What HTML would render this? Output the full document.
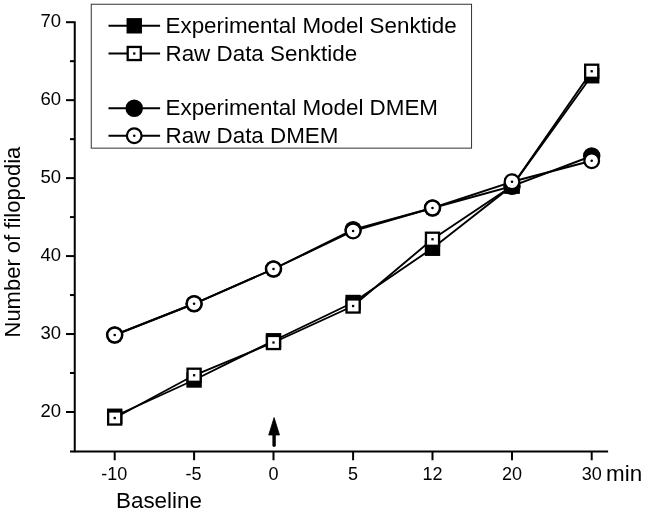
<!DOCTYPE html>
<html><head><meta charset="utf-8"><title>Number of filopodia</title>
<style>
html,body{margin:0;padding:0;background:#fff;}
svg{display:block;filter:grayscale(1);}
text{font-family:"Liberation Sans",Arial,sans-serif;fill:#000;}
</style></head><body>
<svg width="645" height="513" viewBox="0 0 645 513">
<rect width="645" height="513" fill="#fff"/>

<g stroke="#000" stroke-width="2" fill="none">
<line x1="74.75" y1="21.2" x2="74.75" y2="452.25"/>
<line x1="70" y1="451.4" x2="608.1" y2="451.4"/>
<line x1="66" y1="22.20" x2="74" y2="22.20"/>
<line x1="70" y1="61.18" x2="74" y2="61.18"/>
<line x1="66" y1="100.16" x2="74" y2="100.16"/>
<line x1="70" y1="139.14" x2="74" y2="139.14"/>
<line x1="66" y1="178.12" x2="74" y2="178.12"/>
<line x1="70" y1="217.10" x2="74" y2="217.10"/>
<line x1="66" y1="256.08" x2="74" y2="256.08"/>
<line x1="70" y1="295.06" x2="74" y2="295.06"/>
<line x1="66" y1="334.04" x2="74" y2="334.04"/>
<line x1="70" y1="373.02" x2="74" y2="373.02"/>
<line x1="66" y1="412.00" x2="74" y2="412.00"/>
<line x1="114.7" y1="452" x2="114.7" y2="460.25"/>
<line x1="194.1" y1="452" x2="194.1" y2="460.25"/>
<line x1="273.5" y1="452" x2="273.5" y2="460.25"/>
<line x1="353.1" y1="452" x2="353.1" y2="460.25"/>
<line x1="432.5" y1="452" x2="432.5" y2="460.25"/>
<line x1="512" y1="452" x2="512" y2="460.25"/>
<line x1="591.7" y1="452" x2="591.7" y2="460.25"/>
</g>
<text x="61" y="27.40" font-size="18.5" text-anchor="end">70</text>
<text x="61" y="105.36" font-size="18.5" text-anchor="end">60</text>
<text x="61" y="183.32" font-size="18.5" text-anchor="end">50</text>
<text x="61" y="261.28" font-size="18.5" text-anchor="end">40</text>
<text x="61" y="339.24" font-size="18.5" text-anchor="end">30</text>
<text x="61" y="417.20" font-size="18.5" text-anchor="end">20</text>
<text x="114.2" y="480" font-size="18" text-anchor="middle">-10</text>
<text x="193.6" y="480" font-size="18" text-anchor="middle">-5</text>
<text x="273.5" y="480" font-size="18" text-anchor="middle">0</text>
<text x="353.1" y="480" font-size="18" text-anchor="middle">5</text>
<text x="432.5" y="480" font-size="18" text-anchor="middle">12</text>
<text x="512" y="480" font-size="18" text-anchor="middle">20</text>
<text x="591.7" y="480" font-size="18" text-anchor="middle">30</text>
<text x="606" y="480.75" font-size="22.4">min</text>
<text x="116" y="507.6" font-size="22.4">Baseline</text>
<text transform="translate(19.7,337.5) rotate(-90)" font-size="22">Number of filopodia</text>
<polyline points="114.7,416.25 194.1,380 273.5,340.75 353.1,302.5 432.5,248.25 512,186 591.7,75.75" fill="none" stroke="#000" stroke-width="1.9"/>
<rect x="107.00" y="408.55" width="15.4" height="15.4" fill="#000"/>
<rect x="186.40" y="372.30" width="15.4" height="15.4" fill="#000"/>
<rect x="265.80" y="333.05" width="15.4" height="15.4" fill="#000"/>
<rect x="345.40" y="294.80" width="15.4" height="15.4" fill="#000"/>
<rect x="424.80" y="240.55" width="15.4" height="15.4" fill="#000"/>
<rect x="504.30" y="178.30" width="15.4" height="15.4" fill="#000"/>
<rect x="584.00" y="68.05" width="15.4" height="15.4" fill="#000"/>
<polyline points="114.7,418 194.1,375.25 273.5,342.5 353.1,306 432.5,239.25 512,186 591.7,71.25" fill="none" stroke="#000" stroke-width="1.9"/>
<rect x="108.15" y="411.45" width="13.1" height="13.1" fill="#fff" stroke="#000" stroke-width="2.3"/><rect x="113.55" y="416.85" width="2.3" height="2.3" fill="#000"/>
<rect x="187.55" y="368.70" width="13.1" height="13.1" fill="#fff" stroke="#000" stroke-width="2.3"/><rect x="192.95" y="374.10" width="2.3" height="2.3" fill="#000"/>
<rect x="266.95" y="335.95" width="13.1" height="13.1" fill="#fff" stroke="#000" stroke-width="2.3"/><rect x="272.35" y="341.35" width="2.3" height="2.3" fill="#000"/>
<rect x="346.55" y="299.45" width="13.1" height="13.1" fill="#fff" stroke="#000" stroke-width="2.3"/><rect x="351.95" y="304.85" width="2.3" height="2.3" fill="#000"/>
<rect x="425.95" y="232.70" width="13.1" height="13.1" fill="#fff" stroke="#000" stroke-width="2.3"/><rect x="431.35" y="238.10" width="2.3" height="2.3" fill="#000"/>
<rect x="505.45" y="179.45" width="13.1" height="13.1" fill="#fff" stroke="#000" stroke-width="2.3"/><rect x="510.85" y="184.85" width="2.3" height="2.3" fill="#000"/>
<rect x="585.15" y="64.70" width="13.1" height="13.1" fill="#fff" stroke="#000" stroke-width="2.3"/><rect x="590.55" y="70.10" width="2.3" height="2.3" fill="#000"/>
<polyline points="114.7,335 194.1,303.75 273.5,269 353.1,229.75 432.5,208 512,186.2 591.7,156" fill="none" stroke="#000" stroke-width="1.9"/>
<circle cx="114.7" cy="335" r="8.75" fill="#000"/>
<circle cx="194.1" cy="303.75" r="8.75" fill="#000"/>
<circle cx="273.5" cy="269" r="8.75" fill="#000"/>
<circle cx="353.1" cy="229.75" r="8.75" fill="#000"/>
<circle cx="432.5" cy="208" r="8.75" fill="#000"/>
<circle cx="512" cy="186.2" r="8.75" fill="#000"/>
<circle cx="591.7" cy="156" r="8.75" fill="#000"/>
<polyline points="114.7,335 194.1,303.75 273.5,269 353.1,231 432.5,208 512,181.75 591.7,160.75" fill="none" stroke="#000" stroke-width="1.9"/>
<circle cx="114.7" cy="335" r="7.35" fill="#fff" stroke="#000" stroke-width="2.25"/><circle cx="114.7" cy="335" r="1.3" fill="#000"/>
<circle cx="194.1" cy="303.75" r="7.35" fill="#fff" stroke="#000" stroke-width="2.25"/><circle cx="194.1" cy="303.75" r="1.3" fill="#000"/>
<circle cx="273.5" cy="269" r="7.35" fill="#fff" stroke="#000" stroke-width="2.25"/><circle cx="273.5" cy="269" r="1.3" fill="#000"/>
<circle cx="353.1" cy="231" r="7.35" fill="#fff" stroke="#000" stroke-width="2.25"/><circle cx="353.1" cy="231" r="1.3" fill="#000"/>
<circle cx="432.5" cy="208" r="7.35" fill="#fff" stroke="#000" stroke-width="2.25"/><circle cx="432.5" cy="208" r="1.3" fill="#000"/>
<circle cx="512" cy="181.75" r="7.35" fill="#fff" stroke="#000" stroke-width="2.25"/><circle cx="512" cy="181.75" r="1.3" fill="#000"/>
<circle cx="591.7" cy="160.75" r="7.35" fill="#fff" stroke="#000" stroke-width="2.25"/><circle cx="591.7" cy="160.75" r="1.3" fill="#000"/>
<line x1="274.1" y1="445.2" x2="274.1" y2="432" stroke="#000" stroke-width="3.4" stroke-linecap="round"/>
<polygon points="274.1,417.6 279.5,435 268.7,435" fill="#000" stroke="#000" stroke-width="0.8" stroke-linejoin="round"/>
<rect x="91.25" y="4.25" width="380.3" height="143.9" fill="#fff" stroke="#333" stroke-width="1"/>
<line x1="108.5" y1="25.8" x2="160.1" y2="25.8" stroke="#000" stroke-width="1.9"/>
<rect x="126.55" y="18.10" width="15.4" height="15.4" fill="#000"/>
<text x="165.5" y="33.00" font-size="22.4">Experimental Model Senktide</text>
<line x1="108.5" y1="53.5" x2="160.1" y2="53.5" stroke="#000" stroke-width="1.9"/>
<rect x="127.70" y="46.95" width="13.1" height="13.1" fill="#fff" stroke="#000" stroke-width="2.3"/><rect x="133.10" y="52.35" width="2.3" height="2.3" fill="#000"/>
<text x="165.5" y="60.70" font-size="22.4">Raw Data Senktide</text>
<line x1="108.5" y1="108.25" x2="160.1" y2="108.25" stroke="#000" stroke-width="1.9"/>
<circle cx="134.25" cy="108.25" r="8.75" fill="#000"/>
<text x="165.5" y="115.45" font-size="22.4">Experimental Model DMEM</text>
<line x1="108.5" y1="135.75" x2="160.1" y2="135.75" stroke="#000" stroke-width="1.9"/>
<circle cx="134.25" cy="135.75" r="7.35" fill="#fff" stroke="#000" stroke-width="2.25"/><circle cx="134.25" cy="135.75" r="1.3" fill="#000"/>
<text x="165.5" y="142.95" font-size="22.4">Raw Data DMEM</text>
</svg></body></html>
